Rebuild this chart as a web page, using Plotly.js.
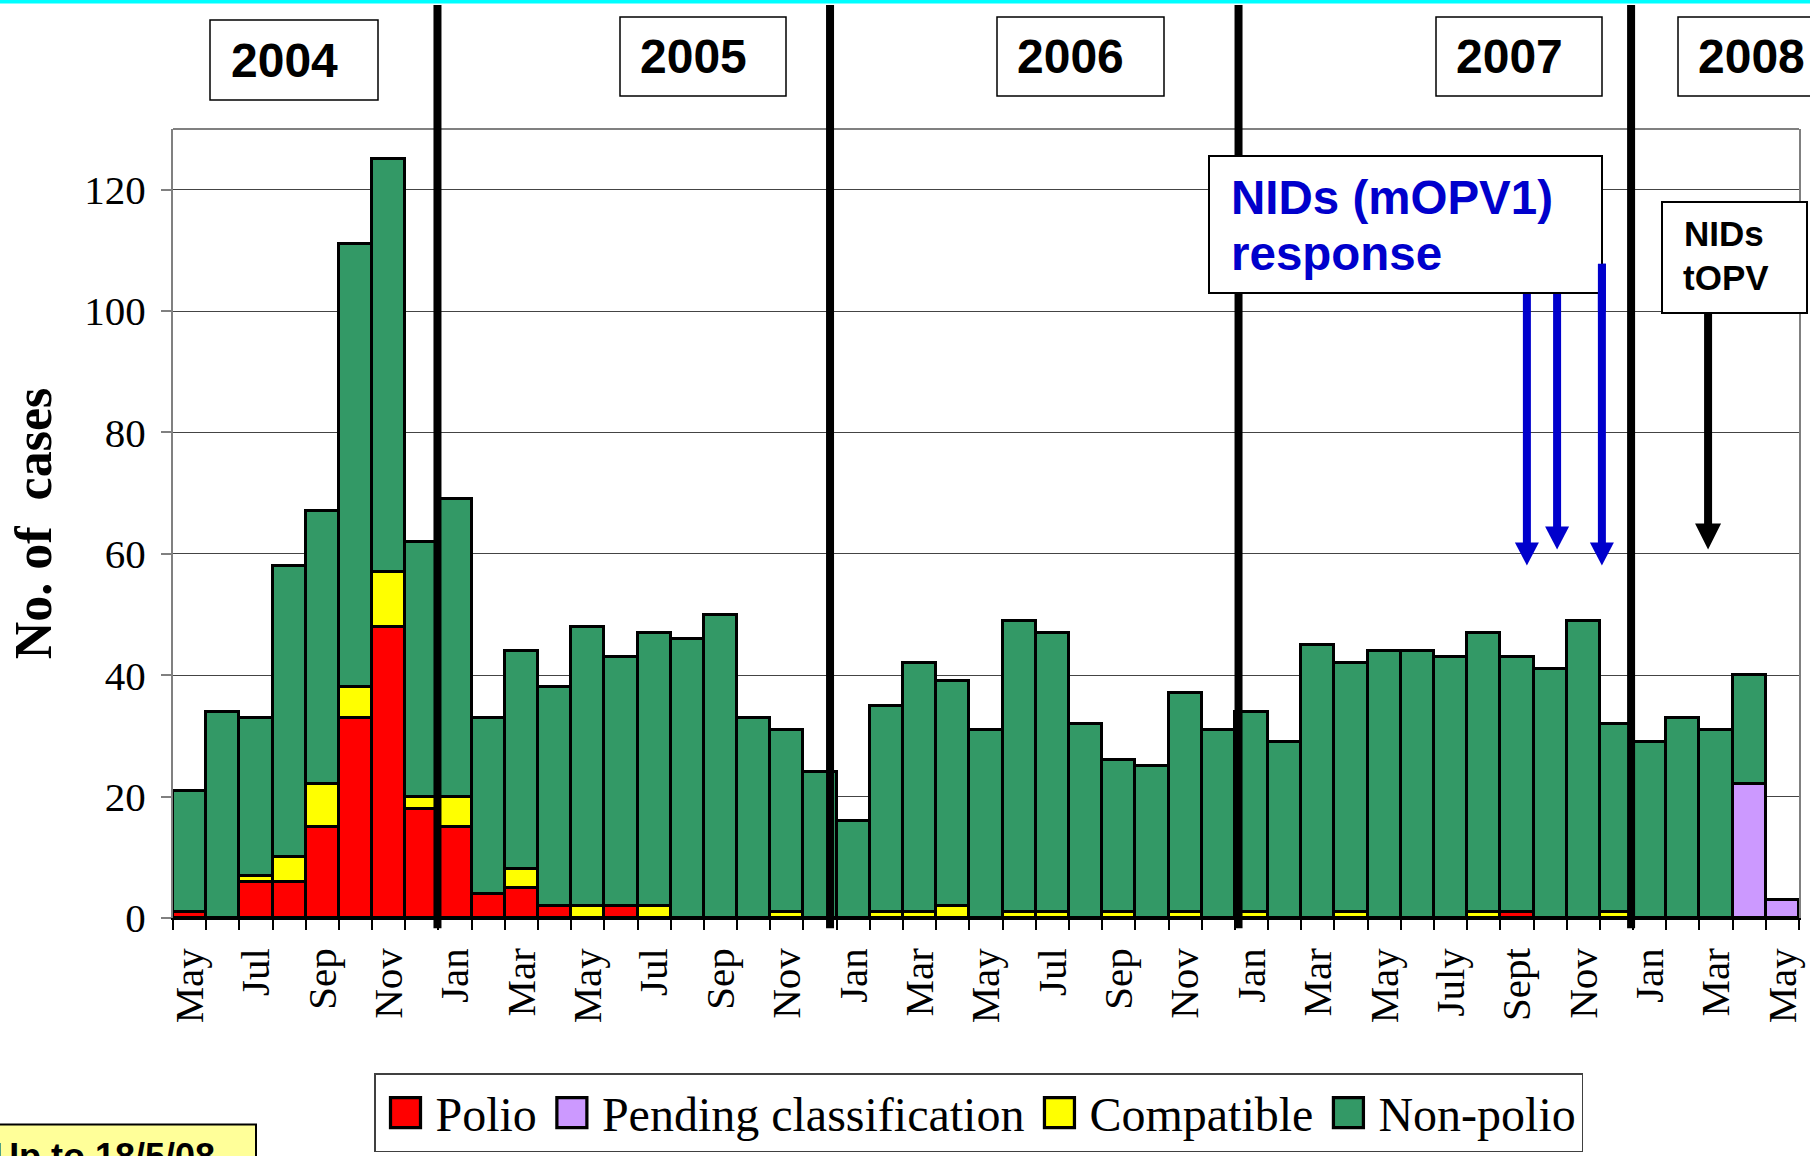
<!DOCTYPE html>
<html>
<head>
<meta charset="utf-8">
<script src="https://cdn.plot.ly/plotly-3.0.1.min.js"></script>
<style>
html,body{margin:0;padding:0;background:#fff;}
#chart{width:1810px;height:1156px;}
</style>
</head>
<body>
<div id="chart"></div>
<script>
// ---------- data ----------
const categories = [
  "May 2004","Jun 2004","Jul 2004","Aug 2004","Sep 2004","Oct 2004","Nov 2004","Dec 2004",
  "Jan 2005","Feb 2005","Mar 2005","Apr 2005","May 2005","Jun 2005","Jul 2005","Aug 2005","Sep 2005","Oct 2005","Nov 2005","Dec 2005",
  "Jan 2006","Feb 2006","Mar 2006","Apr 2006","May 2006","Jun 2006","Jul 2006","Aug 2006","Sep 2006","Oct 2006","Nov 2006","Dec 2006",
  "Jan 2007","Feb 2007","Mar 2007","Apr 2007","May 2007","Jun 2007","Jul 2007","Aug 2007","Sep 2007","Oct 2007","Nov 2007","Dec 2007",
  "Jan 2008","Feb 2008","Mar 2008","Apr 2008","May 2008"
];
const polio = [
  1,0,6,6,15,33,48,18,
  15,4,5,2,0,2,0,0,0,0,0,0,
  0,0,0,0,0,0,0,0,0,0,0,0,
  0,0,0,0,0,0,0,0,1,0,0,0,
  0,0,0,0,0
];
const pending = [
  0,0,0,0,0,0,0,0,
  0,0,0,0,0,0,0,0,0,0,0,0,
  0,0,0,0,0,0,0,0,0,0,0,0,
  0,0,0,0,0,0,0,0,0,0,0,0,
  0,0,0,22,3
];
const compatible = [
  0,0,1,4,7,5,9,2,
  5,0,3,0,2,0,2,0,0,0,1,0,
  0,1,1,2,0,1,1,0,1,0,1,0,
  1,0,0,1,0,0,0,1,0,0,0,1,
  0,0,0,0,0
];
const nonPolio = [
  20,34,26,48,45,73,68,42,
  49,29,36,36,46,41,45,46,50,33,30,24,
  16,34,41,37,31,48,46,32,25,25,36,31,
  33,29,45,41,44,44,43,46,42,41,49,31,
  29,33,31,18,0
];
const tickLabels = [
  "May","Jul","Sep","Nov",
  "Jan","Mar","May","Jul","Sep","Nov",
  "Jan","Mar","May","Jul","Sep","Nov",
  "Jan","Mar","May","July","Sept","Nov",
  "Jan","Mar","May"
];
const yearLabels = ["2004","2005","2006","2007","2008"];
const seriesNames = ["Polio","Pending classification","Compatible","Non-polio"];
const seriesColors = ["#FF0000","#CC99FF","#FFFF00","#339966"];

// ---------- geometry helpers (pixel -> paper) ----------
const L = 173, R = 1799, T = 129, B = 917.7;
const px = v => (v - L) / (R - L);
const py = v => (B - v) / (B - T);

const n = categories.length;
const tickCats = categories.filter((_, i) => i % 2 === 0);
const boundaries = [];
for (let i = 0; i <= n; i++) boundaries.push(i - 0.5);
// year divider lines, as drawn in the original (slightly off the bar boundaries)
const dividerX = [7.47, 19.30, 31.61, 43.44];

// ---------- traces ----------
const seriesValues = [polio, pending, compatible, nonPolio];
const traces = seriesValues.map((vals, k) => ({
  type: "bar",
  name: seriesNames[k],
  x: categories,
  y: vals,
  marker: {color: seriesColors[k], line: {color: "#000", width: 3}},
  hovertemplate: "%{x}: %{y}<extra>" + seriesNames[k] + "</extra>"
}));
traces.push({type: "scatter", x: [], y: [], xaxis: "x2", yaxis: "y", showlegend: false, hoverinfo: "skip"});

// ---------- shapes ----------
const shapes = [];
shapes.push({type: "rect", xref: "paper", yref: "paper", x0: px(0), x1: px(1810), y0: py(3.5), y1: py(-2),
  fillcolor: "#00FFFF", line: {width: 0}, layer: "above"});
shapes.push({type: "line", xref: "paper", yref: "paper", x0: 0, x1: 1, y0: 1, y1: 1,
  line: {color: "#808080", width: 2}, layer: "above"});
dividerX.forEach(x => shapes.push({type: "line", xref: "x", yref: "paper", x0: x, x1: x,
  y0: py(928), y1: py(5), line: {color: "#000", width: 8}, layer: "above"}));
const yearBoxes = [[210, 20, 378, 100], [620, 17, 786, 96], [997, 17, 1164, 96], [1436, 17, 1602, 96], [1678, 17, 1860, 96]];
yearBoxes.forEach(b => shapes.push({type: "rect", xref: "paper", yref: "paper", x0: px(b[0]), x1: px(b[2]),
  y0: py(b[3]), y1: py(b[1]), fillcolor: "#fff", line: {color: "#000", width: 1.5}, layer: "above"}));
// arrows: first two start hidden under the NIDs box
const arrows = [
  {x: 40.30, top: 103, tip: 58.1, color: "#0000CC", hw: 12, hh: 23},
  {x: 41.21, top: 103, tip: 60.7, color: "#0000CC", hw: 12, hh: 23},
  {x: 42.56, top: 107.8, tip: 58.1, color: "#0000CC", hw: 12, hh: 23},
  {x: 45.76, top: 99.6, tip: 60.7, color: "#000000", hw: 13, hh: 26}
];
arrows.forEach(a => {
  shapes.push({type: "line", xref: "x", yref: "y", x0: a.x, x1: a.x, y0: a.top, y1: a.tip + 2,
    line: {color: a.color, width: 8}, layer: "above"});
  shapes.push({type: "path", xref: "x", yref: "y", xsizemode: "pixel", ysizemode: "pixel",
    xanchor: a.x, yanchor: a.tip,
    path: `M${-a.hw},${a.hh} L${a.hw},${a.hh} L0,0 Z`,
    fillcolor: a.color, line: {width: 0}, layer: "above"});
});
// NIDs (mOPV1) box
shapes.push({type: "rect", xref: "paper", yref: "paper", x0: px(1209), x1: px(1602), y0: py(293), y1: py(156),
  fillcolor: "#fff", line: {color: "#000", width: 2}, layer: "above"});
// visible part of third arrow shaft over the box edge
shapes.push({type: "line", xref: "x", yref: "y", x0: arrows[2].x, x1: arrows[2].x, y0: arrows[2].top, y1: 100,
  line: {color: "#0000CC", width: 8}, layer: "above"});
// NIDs tOPV box
shapes.push({type: "rect", xref: "paper", yref: "paper", x0: px(1662), x1: px(1807), y0: py(313), y1: py(202),
  fillcolor: "#fff", line: {color: "#000", width: 2}, layer: "above"});
// "Up to" box
shapes.push({type: "rect", xref: "paper", yref: "paper", x0: px(-20), x1: px(256), y0: py(1200), y1: py(1124),
  fillcolor: "#FFFF99", line: {color: "#000", width: 2}, layer: "above"});

// ---------- annotations ----------
const ann = [];
const yearTextPos = [[284, 61], [693, 57], [1070, 57], [1509, 57], [1751, 57]];
yearLabels.forEach((t, i) => ann.push({xref: "paper", yref: "paper", x: px(yearTextPos[i][0]), y: py(yearTextPos[i][1]),
  xanchor: "center", yanchor: "middle", text: "<b>" + t + "</b>", showarrow: false, borderpad: 0,
  font: {family: "Liberation Sans, Arial", size: 48, color: "#000"}}));
ann.push({xref: "paper", yref: "paper", x: px(1230), y: py(197), xanchor: "left", yanchor: "middle",
  text: "<b>NIDs (mOPV1)</b>", showarrow: false, borderpad: 0,
  font: {family: "Liberation Sans, Arial", size: 47.5, color: "#0000CC"}});
ann.push({xref: "paper", yref: "paper", x: px(1230), y: py(253.5), xanchor: "left", yanchor: "middle",
  text: "<b>response</b>", showarrow: false, borderpad: 0,
  font: {family: "Liberation Sans, Arial", size: 47.5, color: "#0000CC"}});
ann.push({xref: "paper", yref: "paper", x: px(1683), y: py(233), xanchor: "left", yanchor: "middle",
  text: "<b>NIDs</b>", showarrow: false, borderpad: 0,
  font: {family: "Liberation Sans, Arial", size: 35, color: "#000"}});
ann.push({xref: "paper", yref: "paper", x: px(1682), y: py(277), xanchor: "left", yanchor: "middle",
  text: "<b>tOPV</b>", showarrow: false, borderpad: 0,
  font: {family: "Liberation Sans, Arial", size: 35, color: "#000"}});
ann.push({xref: "paper", yref: "paper", x: px(-8), y: py(1156.5), xanchor: "left", yanchor: "middle",
  text: "<b>Up to 18/5/08</b>", showarrow: false, borderpad: 0,
  font: {family: "Liberation Sans, Arial", size: 36, color: "#000"}});

// ---------- layout ----------
const layout = {
  width: 1810, height: 1156,
  margin: {l: 173, r: 11, t: 129, b: 238.3, autoexpand: false},
  paper_bgcolor: "#fff", plot_bgcolor: "#fff",
  font: {family: "Liberation Serif, Times New Roman, serif", color: "#000"},
  barmode: "stack", bargap: 0,
  xaxis: {
    type: "category", categoryorder: "array", categoryarray: categories,
    range: [-0.5, n - 0.5], tickmode: "array", tickvals: tickCats, ticktext: tickLabels,
    tickangle: -90, tickfont: {family: "Liberation Serif", size: 41, color: "#000"},
    ticks: "", showgrid: false, zeroline: false, showline: false, ticklabelstandoff: 21
  },
  xaxis2: {
    overlaying: "x", anchor: "y", side: "bottom", range: [-0.5, n - 0.5],
    tickmode: "array", tickvals: boundaries, ticks: "outside", ticklen: 10, tickwidth: 1.5, tickcolor: "#000",
    showticklabels: false, showgrid: false, zeroline: false, showline: true, linecolor: "#000", linewidth: 2
  },
  yaxis: {
    range: [0, 130], tickmode: "array", tickvals: [0, 20, 40, 60, 80, 100, 120],
    ticks: "outside", ticklen: 10, tickwidth: 1.5, tickcolor: "#808080",
    showline: true, linecolor: "#808080", linewidth: 2, mirror: true,
    showgrid: true, gridcolor: "#444", gridwidth: 1, zeroline: false, ticklabelstandoff: 7,
    tickfont: {family: "Liberation Serif", size: 41, color: "#000"},
    title: {text: "No. of\u00a0\u00a0cases", standoff: 16,
      font: {family: "Liberation Serif", size: 52, color: "#000", weight: "bold"}}
  },
  legend: {
    orientation: "h", x: px(374), y: py(1073), xanchor: "left", yanchor: "top",
    bordercolor: "#404040", borderwidth: 1.5, bgcolor: "#fff", itemwidth: 50, traceorder: "normal",
    font: {family: "Liberation Serif", size: 48, color: "#000"}
  },
  shapes: shapes,
  annotations: ann,
  showlegend: true
};

Plotly.newPlot("chart", traces, layout, {displayModeBar: false, responsive: false}).then(gd => {
  gd.querySelectorAll(".legend .legendpoints path").forEach(p => {
    const t = p.getAttribute("transform") || "";
    p.setAttribute("transform", t + " scale(2.5)");
    p.style.strokeWidth = "1.3px";
  });
});
</script>
</body>
</html>
